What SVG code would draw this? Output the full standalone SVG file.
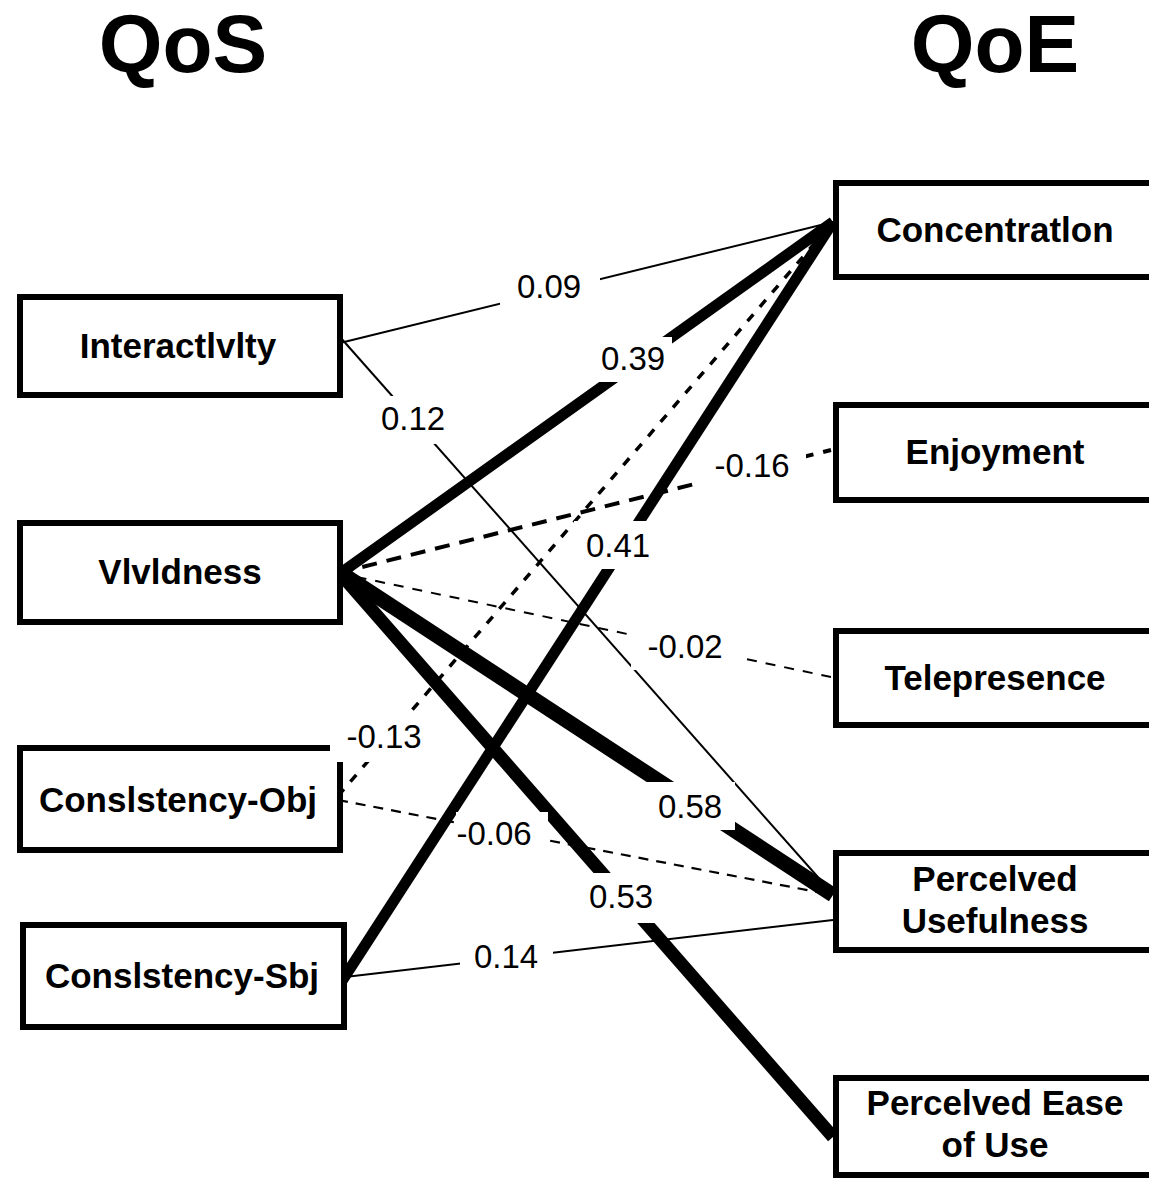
<svg xmlns="http://www.w3.org/2000/svg" width="1149" height="1179" viewBox="0 0 1149 1179">
<style>
.title{font-family:"Liberation Sans",Arial,Helvetica,sans-serif;font-weight:bold;font-size:82px;fill:#000;text-anchor:middle}
.box{fill:#fff;stroke:#000;stroke-width:6}
.nl{font-family:"Liberation Sans",Arial,Helvetica,sans-serif;font-weight:bold;font-size:35px;fill:#000;text-anchor:middle}
.e{fill:none;stroke:#000;stroke-linecap:butt}
.el{font-family:"Liberation Sans",Arial,Helvetica,sans-serif;font-size:33px;fill:#000;text-anchor:middle}
.bg{fill:#fff}
</style>
<rect x="0" y="0" width="1149" height="1179" fill="#fff"/>
<text class="title" x="183" y="72">QoS</text>
<text class="title" x="995" y="72">QoE</text>

<g id="connectors">
<path class="e" d="M340,343 L833,222" stroke-width="2"/>
<path class="e" d="M340,337 L832,893" stroke-width="2"/>
<path class="e" d="M338,575 L833,222" stroke-width="11"/>
<path class="e" d="M338,573 L831,450" stroke-width="4" stroke-dasharray="15 10"/>
<path class="e" d="M338,573 L831,677" stroke-width="2" stroke-dasharray="10 9"/>
<path class="e" d="M338,571 L833,895" stroke-width="15"/>
<path class="e" d="M338,571 L833,1137" stroke-width="13"/>
<path class="e" d="M338,796 L833,222" stroke-width="3.5" stroke-dasharray="9 10"/>
<path class="e" d="M338,800 L833,895" stroke-width="2.2" stroke-dasharray="10 8"/>
<path class="e" d="M340,984 L833,222" stroke-width="11"/>
<path class="e" d="M345,977 L833,920" stroke-width="2"/>
</g>

<g id="node-interactivity"><rect class="box" x="20" y="297" width="320" height="98"/><text class="nl" x="178" y="358">Interactlvlty</text></g>
<g id="node-vividness"><rect class="box" x="20" y="523" width="320" height="99"/><text class="nl" x="180" y="584">Vlvldness</text></g>
<g id="node-consistency-obj"><rect class="box" x="20" y="748" width="320" height="102"/><text class="nl" x="178" y="812">Conslstency-Obj</text></g>
<g id="node-consistency-sbj"><rect class="box" x="23" y="925" width="321" height="102"/><text class="nl" x="182" y="988">Conslstency-Sbj</text></g>
<g id="node-concentration"><rect class="box" x="836" y="183" width="330" height="94"/><text class="nl" x="995" y="242">Concentratlon</text></g>
<g id="node-enjoyment"><rect class="box" x="836" y="405" width="330" height="95"/><text class="nl" x="995" y="464">Enjoyment</text></g>
<g id="node-telepresence"><rect class="box" x="836" y="631" width="330" height="94"/><text class="nl" x="995" y="690">Telepresence</text></g>
<g id="node-perceived-usefulness"><rect class="box" x="836" y="853" width="330" height="97"/><text class="nl" x="995" y="891">Percelved</text><text class="nl" x="995" y="933">Usefulness</text></g>
<g id="node-perceived-ease"><rect class="box" x="836" y="1078" width="330" height="97"/><text class="nl" x="995" y="1115">Percelved Ease</text><text class="nl" x="995" y="1157">of Use</text></g>

<g id="edge-labels">
<rect class="bg" x="500" y="262" width="100" height="48"/><text class="el" x="549" y="298">0.09</text>
<rect class="bg" x="596" y="337" width="76" height="45"/><text class="el" x="633" y="370">0.39</text>
<rect class="bg" x="368" y="396" width="90" height="48"/><text class="el" x="413" y="430">0.12</text>
<rect class="bg" x="700" y="441" width="106" height="48"/><text class="el" x="752" y="477">-0.16</text>
<rect class="bg" x="574" y="521" width="88" height="48"/><text class="el" x="618" y="557">0.41</text>
<rect class="bg" x="631" y="622" width="110" height="48"/><text class="el" x="685" y="658">-0.02</text>
<rect class="bg" x="330" y="712" width="106" height="50"/><text class="el" x="384" y="748">-0.13</text>
<rect class="bg" x="645" y="782" width="90" height="48"/><text class="el" x="690" y="818">0.58</text>
<rect class="bg" x="456" y="812" width="92" height="44"/><text class="el" x="494" y="845">-0.06</text>
<rect class="bg" x="576" y="873" width="90" height="50"/><text class="el" x="621" y="908">0.53</text>
<rect class="bg" x="460" y="931" width="93" height="50"/><text class="el" x="506" y="968">0.14</text>
</g>
</svg>
